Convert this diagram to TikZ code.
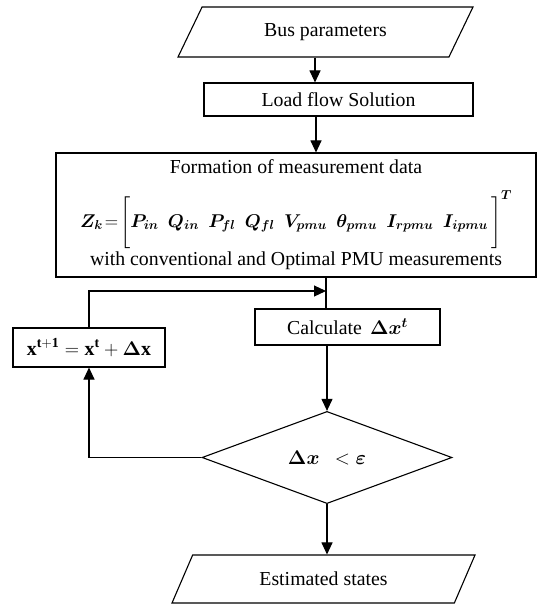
\RequirePackage{fix-cm}
\documentclass[tikz,border=0pt]{standalone}
\usepackage{fontspec}
\setmainfont{Liberation Serif}
\usepackage{amsmath,bm}
\usetikzlibrary{shapes.geometric,arrows.meta}

\begin{document}
\begin{tikzpicture}[x=1pt,y=-1pt,
    every node/.style={font=\fontsize{19.8}{23}\selectfont},
    box/.style={draw,line width=1.1pt,inner sep=0pt},
    io/.style={box,trapezium,trapezium stretches body},
    arr/.style={line width=1.1pt,-{Triangle[length=12pt,width=11pt]}},
    ln/.style={line width=1.1pt}]
  % ------- page frame -------
  \useasboundingbox (0,0) rectangle (539,604);

  % ------- input / output -------
  \node[io,trapezium left angle=35.5,trapezium right angle=144.5,
        minimum width=295,minimum height=50] (bus) at (325.5,32) {Bus parameters};
  \node[io,trapezium left angle=34,trapezium right angle=146,
        minimum width=303,minimum height=48] (est) at (323.5,579) {Estimated states};

  % ------- process boxes -------
  \node[box,minimum width=269,minimum height=33] (load) at (338.5,99.5) {Load flow Solution};
  \node[box,minimum width=480,minimum height=124,align=center] (form) at (296,215)
       {Formation of measurement data\\[16pt]
        {\fontsize{18.5}{20}\selectfont
        $\bm{Z_k}\!=\!\Bigg[\bm{P_{in}}\ \ \bm{Q_{in}}\ \ \bm{P_{fl}}\ \ \bm{Q_{fl}}\ \
         \bm{V_{pmu}}\ \ \bm{\theta_{pmu}}\ \ \bm{I_{rpmu}}\ \ \bm{I_{ipmu}}\,\Bigg]^{\bm{T}}$}\\[1pt]
        with conventional and Optimal PMU measurements};
  \node[box,minimum width=185,minimum height=36] (calc) at (347.5,327)
       {Calculate \,$\bm{\Delta x}^{\bm{t}}$};
  \node[box,minimum width=152,minimum height=39] (upd) at (89,347.5)
       {$\mathbf{x}^{\mathbf{t+1}}=\mathbf{x}^{\mathbf{t}}+\bm{\Delta}\mathbf{x}$};

  % ------- decision -------
  \node[box,diamond,minimum width=250,minimum height=91] (dec) at (327,457.5)
       {$\bm{\Delta x}\ \ <\bm{\varepsilon}$};
  \coordinate (join) at (326,291);

  % ------- connectors -------
  \draw[arr] ([xshift=-10.5pt]bus.south) -- ([xshift=-10.5pt]bus.south |- load.north);
  \draw[arr] ([xshift=-22.5pt]load.south) -- ([xshift=-22.5pt]load.south |- form.north);
  \draw[ln] ([xshift=30pt]form.south) -- ([xshift=30pt]form.south |- calc.north);
  \draw[arr] (upd.north) |- (join);
  \draw[arr] ([xshift=-20.5pt]calc.south) -- (dec.north);
  \draw[arr] (dec.west) -| (upd.south);
  \draw[arr] (dec.south) -- (dec.south |- est.north);
\end{tikzpicture}
\end{document}
